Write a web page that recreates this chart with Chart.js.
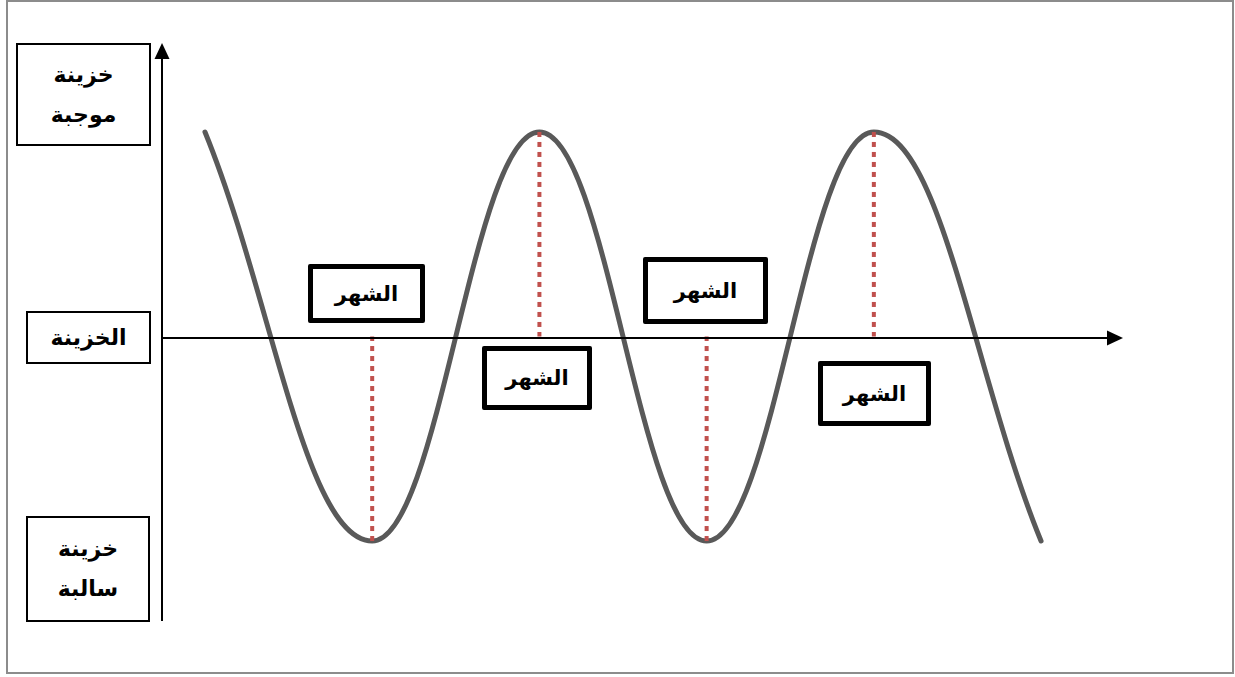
<!DOCTYPE html>
<html lang="ar">
<head>
<meta charset="utf-8">
<title>الخزينة</title>
<script src="https://cdn.jsdelivr.net/npm/chart.js@4.4.1/dist/chart.umd.min.js"></script>
<style>
  html, body { margin: 0; padding: 0; background: #fff; }
  #wrap { position: relative; width: 1235px; height: 677px; overflow: hidden; }
  #frame {
    position: absolute; left: 6px; top: 0; width: 1228px; height: 674px;
    border: 2px solid #8c8c8c; box-sizing: border-box;
  }
  #chart { position: absolute; left: 0; top: 0; }
  .box {
    position: absolute; box-sizing: border-box; background: #fff;
    border: 2px solid #000; color: #000;
    font-family: "DejaVu Sans", sans-serif; font-weight: bold; font-size: 22px;
    direction: rtl; text-align: center;
    display: flex; flex-direction: column; justify-content: center; align-items: center;
  }
  .box.month { border-width: 5px; border-radius: 2px; font-size: 21px; }
  .box span { display: block; line-height: 40px; }
</style>
</head>
<body>
<div id="wrap">
  <div id="frame"></div>
  <canvas id="chart" width="1235" height="677"></canvas>
</div>
<script>
// الأشهر ورصيد الخزينة (موجبة = 1 ، سالبة = -1)
const months = [1, 2, 3, 4, 5, 6];
const balance = [1, -1, 1, -1, 1, -1];

// نصوص المحور العمودي
const levelLabels = [["خزينة", "موجبة"], ["الخزينة"], ["خزينة", "سالبة"]];
const monthLabels = ["الشهر", "الشهر", "الشهر", "الشهر"];

const LEVEL_BOXES = [
  { left: 16, top: 43, width: 135, height: 103 },
  { left: 26, top: 311, width: 125, height: 53 },
  { left: 26, top: 516, width: 124, height: 106 }
];
const MONTH_BOXES = [
  { left: 308, top: 264, width: 117, height: 59 },
  { left: 482, top: 346, width: 110, height: 64 },
  { left: 643, top: 257, width: 125, height: 67 },
  { left: 818, top: 361, width: 113, height: 65 }
];

function addBox(lines, r, cls) {
  const div = document.createElement("div");
  div.className = "box" + (cls ? " " + cls : "");
  div.style.left = r.left + "px";
  div.style.top = r.top + "px";
  div.style.width = r.width + "px";
  div.style.height = r.height + "px";
  lines.forEach(t => {
    const s = document.createElement("span");
    s.textContent = t;
    div.appendChild(s);
  });
  document.getElementById("wrap").appendChild(div);
}

levelLabels.forEach((lines, i) => addBox(lines, LEVEL_BOXES[i]));
monthLabels.forEach((t, i) => addBox([t], MONTH_BOXES[i], "month"));

// الخطوط المنقطة من كل قمة / قاع إلى المحور
const dropLines = [];
for (let i = 1; i < months.length - 1; i += 1) {
  dropLines.push({
    type: "line",
    data: [{ x: months[i], y: balance[i] }, { x: months[i], y: 0 }],
    borderColor: "#c0504d",
    borderWidth: 4,
    borderDash: [5, 5],
    pointRadius: 0,
    tension: 0,
    order: 1
  });
}

const arrowAxes = {
  id: "arrowAxes",
  afterDatasetsDraw(chart) {
    const { ctx, chartArea } = chart;
    const y0 = chart.scales.y.getPixelForValue(0) + 1.5;
    const x0 = chartArea.left;
    ctx.save();
    ctx.strokeStyle = "#000";
    ctx.fillStyle = "#000";
    ctx.lineWidth = 2;
    ctx.beginPath();
    ctx.moveTo(x0, chartArea.bottom);
    ctx.lineTo(x0, chartArea.top + 14);
    ctx.moveTo(x0, y0);
    ctx.lineTo(chartArea.right - 14, y0);
    ctx.stroke();
    ctx.beginPath();
    ctx.moveTo(x0, chartArea.top);
    ctx.lineTo(x0 - 7.5, chartArea.top + 16);
    ctx.lineTo(x0 + 7.5, chartArea.top + 16);
    ctx.closePath();
    ctx.fill();
    ctx.beginPath();
    ctx.moveTo(chartArea.right, y0);
    ctx.lineTo(chartArea.right - 16, y0 - 7.5);
    ctx.lineTo(chartArea.right - 16, y0 + 7.5);
    ctx.closePath();
    ctx.fill();
    ctx.restore();
  }
};

new Chart(document.getElementById("chart"), {
  type: "scatter",
  data: {
    datasets: [
      {
        type: "line",
        data: months.map((m, i) => ({ x: m, y: balance[i] })),
        borderColor: "#595959",
        borderWidth: 5,
        borderCapStyle: "round",
        pointRadius: 0,
        tension: 0.4,
        order: 2
      },
      ...dropLines
    ]
  },
  options: {
    responsive: false,
    animation: false,
    layout: { padding: { left: 162, right: 112, top: 43, bottom: 56 } },
    plugins: { legend: { display: false }, tooltip: { enabled: false } },
    scales: {
      x: { type: "linear", display: false, min: 0.743, max: 6.49 },
      y: { type: "linear", display: false, min: -1.391, max: 1.435 }
    }
  },
  plugins: [arrowAxes]
});
</script>
</body>
</html>
